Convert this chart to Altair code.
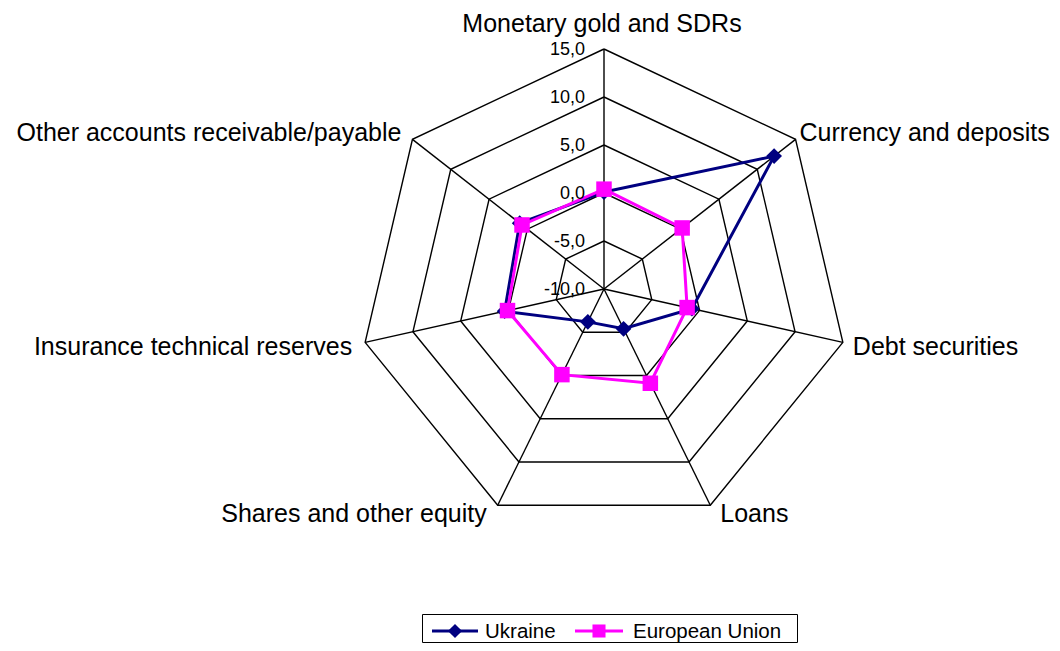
import altair as alt
import numpy as np
import pandas as pd

# ---------------- data ----------------
categories = [
    "Monetary gold and SDRs",
    "Currency and deposits",
    "Debt securities",
    "Loans",
    "Shares and other equity",
    "Insurance technical reserves",
    "Other accounts receivable/payable",
]
ukraine = [0.1, 12.2, -0.8, -5.4, -6.2, 0.4, 1.0]
european_union = [0.4, 0.2, -1.3, 0.9, -0.1, 0.1, 0.7]
series_names = ["Ukraine", "European Union"]
series_colors = ["#000080", "#FF00FF"]
series_shapes = ["diamond", "square"]

r_min, r_max = -10, 15
ring_values = [-5, 0, 5, 10, 15]
tick_values = [-10, -5, 0, 5, 10, 15]
tick_labels = ["-10,0", "-5,0", "0,0", "5,0", "10,0", "15,0"]

# ---------------- layout / style ----------------
W, H = 1044, 635
CX, CY = 596, 281          # centre of the radar, chart pixels
PX_X, PX_Y = 9.8, 9.6      # pixels per value unit
label_dx = [-2, 4, 10, 10, -11, -13, -11]
label_dy = [-17, 2, 13, 17, 17, 13, 2]
label_align = ["center", "left", "left", "left", "right", "right", "right"]
FONT = "Liberation Sans"

n = len(categories)
angles = [2 * np.pi * i / n for i in range(n)]


def polar(v, i):
    r = v - r_min
    return r * np.sin(angles[i]), r * np.cos(angles[i])


xs = alt.Scale(domain=[-CX / PX_X, (W - CX) / PX_X], nice=False, zero=False)
ys = alt.Scale(domain=[-(H - CY) / PX_Y, CY / PX_Y], nice=False, zero=False)
X = lambda f: alt.X(f, type="quantitative", scale=xs, axis=None)
Y = lambda f: alt.Y(f, type="quantitative", scale=ys, axis=None)

# grid rings
ring_rows = []
for rv in ring_values:
    for k in range(n + 1):
        x, y = polar(rv, k % n)
        ring_rows.append({"ring": rv, "k": k, "x": x, "y": y})
rings = alt.Chart(pd.DataFrame(ring_rows)).mark_line(
    color="black", strokeWidth=1.4
).encode(x=X("x"), y=Y("y"), detail="ring:N", order="k:Q")

# spokes
spoke_rows = []
for i in range(n):
    x2, y2 = polar(r_max, i)
    spoke_rows.append({"x": 0.0, "y": 0.0, "x2": x2, "y2": y2})
spokes = alt.Chart(pd.DataFrame(spoke_rows)).mark_rule(
    color="black", strokeWidth=1.4
).encode(x=X("x"), y=Y("y"), x2="x2:Q", y2="y2:Q")

# tick labels
tick_df = pd.DataFrame(
    {"x": [polar(t, 0)[0] for t in tick_values],
     "y": [polar(t, 0)[1] for t in tick_values],
     "label": tick_labels}
)
ticks = alt.Chart(tick_df).mark_text(
    align="right", baseline="middle", dx=-19, dy=1, fontSize=18, font=FONT, color="black"
).encode(x=X("x"), y=Y("y"), text="label:N")

# category labels
lab_rows = []
for i, c in enumerate(categories):
    vx, vy = polar(r_max, i)
    lab_rows.append({
        "cat": c,
        "x": vx + label_dx[i] / PX_X,
        "y": vy - label_dy[i] / PX_Y,
        "align": label_align[i],
    })
lab_df = pd.DataFrame(lab_rows)
label_layers = []
for al in ["left", "center", "right"]:
    sub = lab_df[lab_df["align"] == al]
    label_layers.append(
        alt.Chart(sub).mark_text(
            align=al, baseline="alphabetic", fontSize=25, font=FONT, color="black"
        ).encode(x=X("x"), y=Y("y"), text="cat:N")
    )

# series
series_layers = []
for name, vals, col, shp in zip(series_names, [ukraine, european_union], series_colors, series_shapes):
    rows = []
    for k in range(n + 1):
        x, y = polar(vals[k % n], k % n)
        rows.append({"series": name, "k": k, "x": x, "y": y, "value": vals[k % n]})
    df = pd.DataFrame(rows)
    series_layers.append(
        alt.Chart(df).mark_line(color=col, strokeWidth=3).encode(
            x=X("x"), y=Y("y"), order="k:Q")
    )
    series_layers.append(
        alt.Chart(df[df["k"] < n]).mark_point(
            shape=shp, filled=True, size=250 if shp == "diamond" else 240,
            color=col, opacity=1
        ).encode(x=X("x"), y=Y("y"))
    )

# legend (drawn with pixel positions)
one = pd.DataFrame({"a": [0]})
leg_y = 623
legend = [
    alt.Chart(one).mark_rect(fill="white", stroke="black", strokeWidth=1).encode(
        x=alt.value(414.5), x2=alt.value(789.5), y=alt.value(606.5), y2=alt.value(634.5)),
]
leg_items = [(424, 470, 447, 477), (567, 615, 591, 625)]
for (x1, x2, xm, xt), name, col, shp in zip(leg_items, series_names, series_colors, series_shapes):
    legend.append(alt.Chart(one).mark_rule(color=col, strokeWidth=3).encode(
        x=alt.value(x1), x2=alt.value(x2), y=alt.value(leg_y)))
    legend.append(alt.Chart(one).mark_point(shape=shp, filled=True, size=200 if shp == "diamond" else 170,
                                            color=col, opacity=1).encode(
        x=alt.value(xm), y=alt.value(leg_y)))
    legend.append(alt.Chart(one).mark_text(align="left", baseline="middle", fontSize=20.5,
                                           font=FONT, color="black", dy=1).encode(
        x=alt.value(xt), y=alt.value(leg_y), text=alt.value(name)))

chart = alt.layer(
    rings, spokes, *series_layers, ticks, *label_layers, *legend
).properties(
    width=W, height=H, padding=0,
    autosize=alt.AutoSizeParams(type="none"),
).configure_view(strokeWidth=0)

chart.save("out.html", embed_options={"renderer": "svg", "actions": False})
